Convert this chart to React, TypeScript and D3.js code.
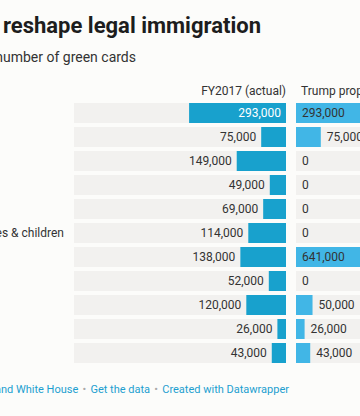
import * as d3 from 'd3';
import React, { useEffect, useRef } from 'react';

// chart data
const categories = [
	"Spouses of citizens",
	"Minor children of citizens",
	"Parents of citizens",
	"Adult children of citizens",
	"Siblings of citizens",
	"Permanent residents' spouses & children",
	"Employment-based",
	"Diversity lottery",
	"Refugees",
	"Asylees",
	"Other",
];
const fy2017 = [293000, 75000, 149000, 49000, 69000, 114000, 138000, 52000, 120000, 26000, 43000];
const trumpProposal = [293000, 75000, 0, 0, 0, 0, 641000, 0, 50000, 26000, 43000];
const columnTitles = ["FY2017 (actual)", "Trump proposal"];

const W = 360, H = 416;
const FONT = "Roboto, 'Noto Sans', sans-serif";

const App = () => {
	const chartRef = useRef<SVGSVGElement>(null);

	useEffect(() => {
		document.body.style.margin = "0";
		document.body.style.background = "#fcfcfa";
		drawChart();
	}, []);

	const drawChart = () => {
		const svg = d3.select(chartRef.current);
		svg.selectAll("*").remove();

		svg.append("rect").attr("width", W).attr("height", H).attr("fill", "#fcfcfa");

		// title / description (left part is cropped off)
		svg.append("text")
			.attr("x", 261).attr("y", 33)
			.attr("text-anchor", "end")
			.style("font", `bold 22px ${FONT}`)
			.style("fill", "#1d1d1d")
			.text("How Trump wants to reshape legal immigration");

		svg.append("text")
			.attr("x", 136).attr("y", 61.5)
			.attr("text-anchor", "end")
			.style("font", `14px ${FONT}`)
			.style("fill", "#333")
			.text("Annual number of green cards");

		const colW = 212;
		const col1 = [74, 286];
		const col2 = [296, 296 + colW];

		const x = d3.scaleLinear()
			.domain([0, d3.max([...fy2017, ...trumpProposal]) as number])
			.range([0, colW]);

		const y = d3.scaleBand<number>()
			.domain(d3.range(categories.length))
			.range([103, 363])
			.paddingInner(1 / 6);

		const fmt = d3.format(",");

		// column headers
		svg.append("text")
			.attr("x", col1[1]).attr("y", 95)
			.attr("text-anchor", "end")
			.style("font", `12px ${FONT}`)
			.style("fill", "#333")
			.text(columnTitles[0]);
		svg.append("text")
			.attr("x", col2[0] + 5).attr("y", 95)
			.style("font", `12px ${FONT}`)
			.style("fill", "#333")
			.text(columnTitles[1]);

		const rows = svg.append("g").selectAll("g")
			.data(categories)
			.enter().append("g")
			.attr("transform", (d, i) => `translate(0,${y(i)})`);

		const bw = y.bandwidth();

		// gray backgrounds
		rows.append("rect")
			.attr("x", col1[0]).attr("width", colW).attr("height", bw)
			.attr("fill", "#f2f1ef");
		rows.append("rect")
			.attr("x", col2[0]).attr("width", colW).attr("height", bw)
			.attr("fill", "#f2f1ef");

		// FY2017 bars, right aligned
		rows.append("rect")
			.attr("x", (d, i) => col1[1] - x(fy2017[i]))
			.attr("width", (d, i) => x(fy2017[i]))
			.attr("height", bw)
			.attr("fill", "#18a1cd");

		// Trump proposal bars, left aligned
		rows.append("rect")
			.attr("x", col2[0])
			.attr("width", (d, i) => x(trumpProposal[i]))
			.attr("height", bw)
			.attr("fill", "#41b6e6");

		// value labels
		const labelFits = (v: number) => x(v) > 60;
		rows.append("text")
			.attr("x", (d, i) => labelFits(fy2017[i]) ? col1[1] - 5 : col1[1] - x(fy2017[i]) - 5)
			.attr("y", bw / 2).attr("dy", "0.35em")
			.attr("text-anchor", "end")
			.style("font", `12px ${FONT}`)
			.style("fill", (d, i) => labelFits(fy2017[i]) ? "#fff" : "#333")
			.text((d, i) => fmt(fy2017[i]));

		rows.append("text")
			.attr("x", (d, i) => labelFits(trumpProposal[i]) ? col2[0] + 6 : col2[0] + x(trumpProposal[i]) + 6)
			.attr("y", bw / 2).attr("dy", "0.35em")
			.style("font", `12px ${FONT}`)
			.style("fill", "#333")
			.text((d, i) => fmt(trumpProposal[i]));

		// row labels, left aligned at the (cropped) chart edge
		const labels = rows.append("text")
			.attr("y", bw / 2).attr("dy", "0.35em")
			.style("font", `12px ${FONT}`)
			.style("fill", "#333")
			.text(d => d);
		const longest = (labels.nodes()[5] as SVGTextElement).getComputedTextLength();
		labels.attr("x", 64 - longest);

		// footer
		const footer = svg.append("text")
			.attr("x", 289).attr("y", 393)
			.attr("text-anchor", "end")
			.style("font", `11px ${FONT}`);
		const sep = () => footer.append("tspan").attr("dx", 1.5).style("fill", "#aaa").text("\u00a0\u2022\u00a0");
		footer.append("tspan").style("fill", "#888").text("Source: ");
		footer.append("tspan").style("fill", "#1d9fd0").text("DHS statistics and White House");
		sep();
		footer.append("tspan").attr("dx", 1.5).style("fill", "#1d9fd0").text("Get the data");
		sep();
		footer.append("tspan").attr("dx", 1.5).style("fill", "#1d9fd0").text("Created with Datawrapper");
	};

	return (
		<svg ref={chartRef} width={W} height={H} style={{ display: "block" }}>
		</svg>
	);
};

export default App;
